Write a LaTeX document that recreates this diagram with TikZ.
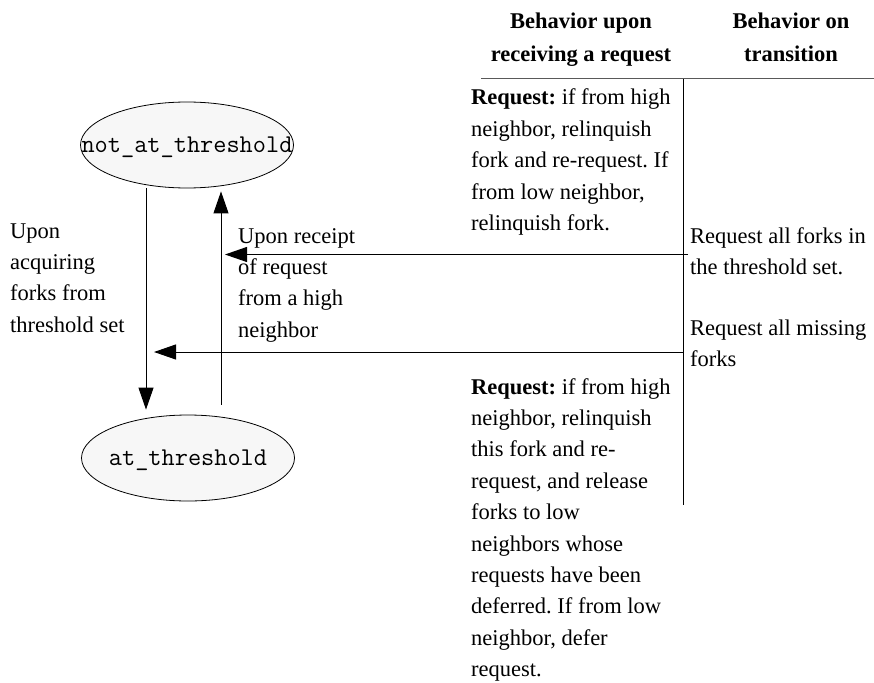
\documentclass[tikz,border=0pt]{standalone}
\usepackage{fontspec}
\setmainfont{Liberation Serif}
\usetikzlibrary{arrows.meta,shapes.geometric}

% stacked lines whose baseline is the first line's baseline
\newcommand{\leftlines}[1]{\begin{tabular}[t]{@{}l@{}}#1\end{tabular}}
\newcommand{\centrelines}[1]{\begin{tabular}[t]{@{}c@{}}#1\end{tabular}}

\begin{document}
\frenchspacing
\begin{tikzpicture}[x=1pt, y=-1pt,
  font=\fontsize{22.5}{31.4}\selectfont,
  state/.style={ellipse, draw, line width=0.8pt, fill=gray!6,
    minimum width=213pt, minimum height=86pt, inner sep=0pt},
  statelabel/.style={anchor=base, inner sep=0pt,
    font=\ttfamily\fontsize{25.6}{28}\selectfont},
  txt/.style={anchor=base west, inner sep=0pt},
  head/.style={anchor=base, inner sep=0pt, font=\bfseries\fontsize{22.5}{31.4}\selectfont},
  arr/.style={line width=1pt, -{Triangle[length=22pt,width=15pt]}},
  rule/.style={line width=1pt}]

\useasboundingbox (0,0) rectangle (874,682);

% states
\node[state] (nat) at (187,145) {};
\node[statelabel] (natl) at ([yshift=-7pt]nat.center) {not\_at\_threshold};
\node[state] (at)  at (188,458) {};
\node[statelabel] (atl) at ([yshift=-7pt]at.center) {at\_threshold};

% transitions between the states
\coordinate (dl) at (146,0);
\coordinate (ul) at (221,0);
\draw[arr, shorten >=5pt] (nat.south -| dl) -- (at.north -| dl);
\draw[arr, shorten <=10pt, shorten >=3pt] (at.north -| ul) -- (nat.south -| ul);

% table rules
\coordinate (hl) at (481,79);
\coordinate (hr) at (874,79);
\coordinate (vt) at (683,79);
\coordinate (vb) at (683,505);
\draw[rule, gray!70!black] (hl) -- (hr);
\draw[rule] (vt) -- (vb);

% transition actions feeding the arrows
\coordinate (a1s) at (688,254.5);
\coordinate (a1e) at (225,254.5);
\coordinate (a2s) at (683,352);
\coordinate (a2e) at (154,352);
\draw[arr] (a1s) -- (a1e);
\draw[arr] (a2s) -- (a2e);

% column headings
\node[head] (h1) at (581,29) {\centrelines{Behavior upon\\[1.6pt]receiving a request}};
\node[head] (h2) at (791,29) {\centrelines{Behavior on\\[1.6pt]transition}};

% transition labels
\node[txt] (lacq) at (10,238) {\leftlines{Upon\\acquiring\\forks from\\threshold set}};
\node[txt] (lrec) at (238,243) {\leftlines{Upon receipt\\of request\\from a high\\neighbor}};

% behaviour in not_at_threshold
\node[txt] (b1) at (471,105) {\leftlines{\textbf{Request:} if from high\\neighbor, relinquish\\fork and re-request. If\\from low neighbor,\\relinquish fork.}};

% actions on transition
\node[txt] (t1) at (690,243) {\leftlines{Request all forks in\\the threshold set.}};
\node[txt] (t2) at (690,335) {\leftlines{Request all missing\\forks}};

% behaviour in at_threshold
\node[txt] (b2) at (471,394) {\leftlines{\textbf{Request:} if from high\\neighbor, relinquish\\this fork and re-\\request, and release\\forks to low\\neighbors whose\\requests have been\\deferred. If from low\\neighbor, defer\\request.}};

\end{tikzpicture}
\end{document}
